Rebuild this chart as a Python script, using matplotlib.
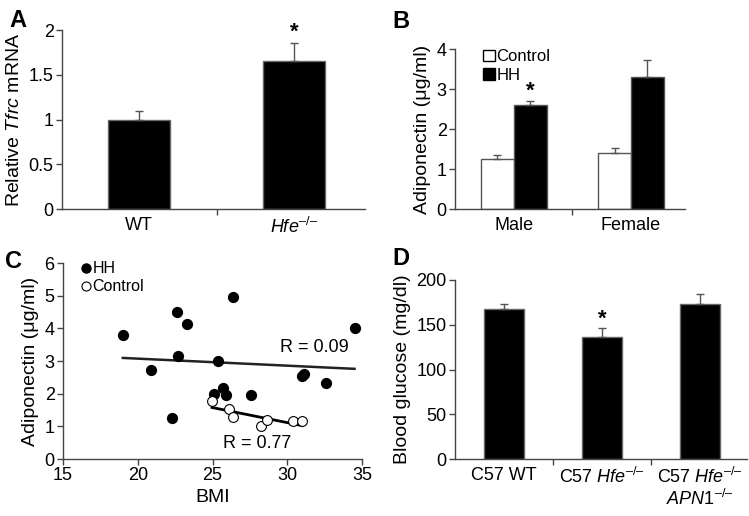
import numpy as np
import matplotlib
matplotlib.use("Agg")
import matplotlib.pyplot as plt
from matplotlib.ticker import FuncFormatter
from matplotlib.lines import Line2D
from matplotlib.patches import Patch

plt.rcParams['font.family'] = ['Liberation Sans', 'DejaVu Sans']
plt.rcParams['mathtext.fontset'] = 'custom'
plt.rcParams['mathtext.rm'] = 'Liberation Sans'
plt.rcParams['mathtext.it'] = 'Liberation Sans:italic'
plt.rcParams['mathtext.default'] = 'it'

HFE = r'$\mathit{Hfe}^{–/–}$'

# panel A
a_labels = ['WT', HFE]
a_vals = [1.0, 1.65]
a_err = [0.1, 0.2]

# panel B
b_groups = ['Male', 'Female']
b_control = [1.25, 1.4]
b_control_err = [0.11, 0.12]
b_hh = [2.6, 3.3]
b_hh_err = [0.1, 0.42]

# panel C
c_hh_bmi = [19.0, 20.9, 22.6, 22.7, 22.3, 23.3, 26.4, 25.35, 25.1, 25.7, 25.9, 27.6, 31.0, 31.1, 32.6, 34.5]
c_hh_apn = [3.8, 2.72, 4.5, 3.15, 1.27, 4.13, 4.97, 3.0, 1.98, 2.18, 1.96, 1.96, 2.53, 2.6, 2.32, 4.02]
c_ctl_bmi = [24.97, 26.1, 26.35, 28.25, 28.65, 30.4, 31.0]
c_ctl_apn = [1.77, 1.54, 1.3, 1.0, 1.2, 1.15, 1.15]
c_r = ['R = 0.09', 'R = 0.77']

# panel D
d_labels = ['C57 WT', 'C57 ' + HFE, 'C57 ' + HFE + '\n' + r'$\mathit{APN1}^{–/–}$']
d_vals = [168, 136, 173]
d_err = [5, 10, 11]

W, H = 749, 516
fig = plt.figure(figsize=(W / 100, H / 100), dpi=100)

def rect(l, r, t, b):
    return [l / W, 1 - b / H, (r - l) / W, (b - t) / H]

axA = fig.add_axes(rect(62, 365, 30, 209))
axB = fig.add_axes(rect(455, 685, 49, 209))
axC = fig.add_axes(rect(63, 362, 263, 459))
axD = fig.add_axes(rect(455, 747, 280, 459))

sc = '#444444'
fmt = FuncFormatter(lambda v, p: '{:g}'.format(v))
TS = 13
LS = 14

def style(ax):
    for s in ['top', 'right']:
        ax.spines[s].set_visible(False)
    for s in ['left', 'bottom']:
        ax.spines[s].set_color(sc)
        ax.spines[s].set_linewidth(1.0)
    ax.tick_params(axis='both', colors=sc, labelcolor='black', labelsize=TS,
                   width=1.0, length=4, direction='out', pad=2)
    ax.yaxis.set_major_formatter(fmt)

def cat_ticks(ax, n):
    ax.set_xticks(range(n))
    ax.tick_params(axis='x', which='major', length=0, pad=6)
    ax.set_xticks([i + 0.5 for i in range(n - 1)], minor=True)
    ax.tick_params(axis='x', which='minor', length=4, width=1.0, colors=sc)

ekw = dict(ecolor='#555555', elinewidth=1.0, capsize=3, capthick=1.0)

# A
x = np.arange(len(a_vals))
axA.bar(x, a_vals, width=0.4, color='black', edgecolor='#666666', lw=1,
        yerr=[[0] * len(a_err), a_err], error_kw=ekw)
axA.set_xlim(-0.5, 1.46)
axA.set_ylim(0, 2)
axA.set_yticks([0, 0.5, 1, 1.5, 2])
style(axA)
cat_ticks(axA, 2)
axA.set_xticklabels(a_labels)
axA.set_ylabel(r'Relative $\mathit{Tfrc}$ mRNA', fontsize=LS, labelpad=4)
axA.text(1, a_vals[1] + a_err[1] + 0.01, '*', ha='center', va='bottom',
         fontsize=16, fontweight='bold')

# B
x = np.arange(len(b_groups))
bw = 0.28
axB.bar(x - bw / 2, b_control, width=bw, color='white', edgecolor='#555555', lw=1,
        yerr=[[0, 0], b_control_err], error_kw=ekw)
axB.bar(x + bw / 2, b_hh, width=bw, color='black', edgecolor='#555555', lw=1,
        yerr=[[0, 0], b_hh_err], error_kw=ekw)
axB.set_xlim(-0.5, 1.46)
axB.set_ylim(0, 4)
axB.set_yticks([0, 1, 2, 3, 4])
style(axB)
cat_ticks(axB, 2)
axB.set_xticklabels(b_groups)
axB.set_ylabel('Adiponectin (μg/ml)', fontsize=LS, labelpad=4)
axB.text(0 + bw / 2, b_hh[0] + b_hh_err[0] - 0.02, '*', ha='center', va='bottom',
         fontsize=16, fontweight='bold')
axB.legend([Patch(facecolor='white', edgecolor='black'), Patch(facecolor='black', edgecolor='black')],
           ['Control', 'HH'], loc='upper left', bbox_to_anchor=(0.085, 1.05), frameon=False,
           fontsize=12, handlelength=0.7, handleheight=0.7, handletextpad=0.1,
           labelspacing=0.2, borderpad=0)

# C
axC.scatter(c_hh_bmi, c_hh_apn, s=50, color='black', zorder=3)
axC.scatter(c_ctl_bmi, c_ctl_apn, s=50, facecolor='white', edgecolor='black', lw=0.8, zorder=3)
for bx, by, col, lw in [(c_hh_bmi, c_hh_apn, '#222222', 1.8), (c_ctl_bmi, c_ctl_apn, 'black', 2.0)]:
    k, b0 = np.polyfit(bx, by, 1)
    xs = np.array([min(bx), max(bx)])
    axC.plot(xs, k * xs + b0, color=col, lw=lw, zorder=2)
axC.set_xlim(15, 35)
axC.set_ylim(0, 6)
axC.set_xticks([15, 20, 25, 30, 35])
axC.set_yticks(range(7))
style(axC)
axC.set_xlabel('BMI', fontsize=LS, labelpad=3)
axC.set_ylabel('Adiponectin (μg/ml)', fontsize=LS, labelpad=4)
axC.text(29.5, 3.42, c_r[0], fontsize=13, va='center')
axC.text(25.7, 0.46, c_r[1], fontsize=13, va='center')
axC.legend([Line2D([], [], marker='o', ls='', color='black', markersize=6.5),
            Line2D([], [], marker='o', ls='', markerfacecolor='white', markeredgecolor='black',
                   markersize=6.5, markeredgewidth=0.8)],
           ['HH', 'Control'], loc='upper left', bbox_to_anchor=(0.035, 1.05), frameon=False,
           fontsize=11.5, handlelength=0.6, handletextpad=0.1, labelspacing=0.2, borderpad=0)

# D
x = np.arange(len(d_vals))
axD.bar(x, d_vals, width=0.406, color='black', edgecolor='#666666', lw=1,
        yerr=[[0] * len(d_err), d_err], error_kw=ekw)
axD.set_xlim(-0.5, 2.48)
axD.set_ylim(0, 200)
axD.set_yticks([0, 50, 100, 150, 200])
style(axD)
cat_ticks(axD, 3)
axD.set_xticklabels(d_labels, linespacing=1.1, va='top')
axD.set_ylabel('Blood glucose (mg/dl)', fontsize=LS, labelpad=4)
axD.text(1, d_vals[1] + d_err[1] - 1, '*', ha='center', va='bottom',
         fontsize=16, fontweight='bold')

for lab, px, py in [('A', 9, 27), ('B', 392, 28), ('C', 5, 268), ('D', 392, 265)]:
    fig.text(px / W, 1 - py / H, lab, fontsize=17, fontweight='bold', va='baseline')

fig.savefig('out.png', dpi=100)
